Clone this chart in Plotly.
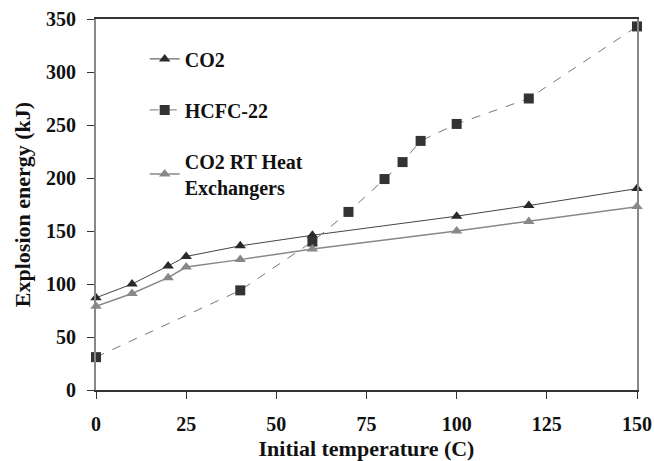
import plotly.graph_objects as go

# Initial temperature (C)
temp_co2 = [0, 10, 20, 25, 40, 60, 100, 120, 150]
temp_hcfc = [0, 40, 60, 70, 80, 85, 90, 100, 120, 150]

# Explosion energy (kJ)
energy_co2 = [87, 100, 117, 126, 136, 146, 164, 174, 190]
energy_hcfc = [31, 94, 140, 168, 199, 215, 235, 251, 275, 343]
energy_co2_rt = [79, 91, 106, 116, 123, 133, 150, 159, 173]

x_ticks = [0, 25, 50, 75, 100, 125, 150]
y_ticks = [0, 50, 100, 150, 200, 250, 300, 350]

font_family = "Liberation Serif, Times New Roman, serif"

fig = go.Figure()
fig.add_trace(go.Scatter(
    x=temp_co2, y=energy_co2, name="<b>CO2</b>", mode="lines+markers",
    line=dict(color="#444444", width=1),
    marker=dict(symbol="triangle-up", size=10, color="#2a2a2a"),
    legendgroup="a", cliponaxis=False,
))
fig.add_trace(go.Scatter(
    x=temp_hcfc, y=energy_hcfc, name="<b>HCFC-22</b>", mode="lines+markers",
    line=dict(color="#777777", width=1, dash="dash"),
    marker=dict(symbol="square", size=10, color="#333333"),
    legendgroup="b", cliponaxis=False,
))
fig.add_trace(go.Scatter(
    x=temp_co2, y=energy_co2_rt, name="<b>CO2 RT Heat<br>Exchangers</b>",
    mode="lines+markers",
    line=dict(color="#888888", width=1.5),
    marker=dict(symbol="triangle-up", size=10, color="#888888"),
    legendgroup="c", cliponaxis=False,
))

fig.update_layout(
    width=654, height=461,
    margin=dict(l=96, r=17, t=19, b=71),
    paper_bgcolor="white", plot_bgcolor="white",
    font=dict(family=font_family, size=18, color="#111111"),
    showlegend=True,
    legend=dict(
        x=0.09, y=0.945, xanchor="left", yanchor="top",
        bgcolor="rgba(0,0,0,0)", font=dict(size=20),
        tracegroupgap=22, traceorder="grouped",
    ),
    xaxis=dict(
        range=[0, 150], tickvals=x_ticks,
        ticktext=[f"<b>{v}</b>" for v in x_ticks],
        tickfont=dict(size=20),
        showgrid=False, zeroline=False, automargin=False,
        showline=True, linecolor="#333333", linewidth=1.5, mirror=True,
        ticks="outside", ticklen=7, tickcolor="#333333",
        ticklabelstandoff=8,
        title=dict(text="<b>Initial temperature (C)</b>", standoff=10),
    ),
    yaxis=dict(
        range=[0, 350], tickvals=y_ticks,
        ticktext=[f"<b>{v}</b>" for v in y_ticks],
        tickfont=dict(size=20),
        showgrid=False, zeroline=False, automargin=False,
        showline=True, linecolor="#888888", linewidth=2, mirror=True,
        ticks="outside", ticklen=7, tickcolor="#333333",
        ticklabelstandoff=7,
        title=dict(text="<b>Explosion energy (kJ)</b>", standoff=9),
    ),
)

fig.write_html("out.html")
